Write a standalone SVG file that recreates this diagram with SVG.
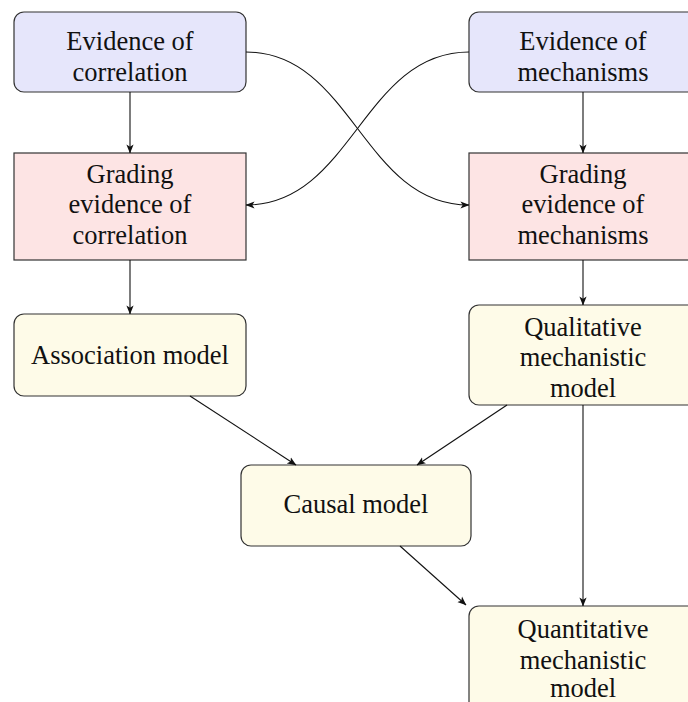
<svg xmlns="http://www.w3.org/2000/svg" width="688" height="702" viewBox="0 0 688 702">
<defs>
<style>
text{font-family:"Liberation Serif","DejaVu Serif",serif;font-size:26.5px;fill:#111;text-anchor:middle}
.blue{fill:#e6e6fb;stroke:#333;stroke-width:1.2}
.pink{fill:#fde4e4;stroke:#333;stroke-width:1.2}
.yel{fill:#fefbe8;stroke:#333;stroke-width:1.2}
.edge{fill:none;stroke:#111;stroke-width:1.1;marker-end:url(#arr)}
</style>
<marker id="arr" viewBox="0 0 10 10" refX="9.5" refY="5" markerWidth="9" markerHeight="9" markerUnits="userSpaceOnUse" orient="auto">
<path d="M0,1 L10,5 L0,9 L2.5,5 Z" fill="#111"/>
</marker>
</defs>
<g id="n1"><rect class="blue" x="14" y="12" width="232" height="80" rx="10"/><text x="130" y="50">Evidence of</text><text x="130" y="81">correlation</text></g>
<g id="n2"><rect class="blue" x="469" y="12" width="232" height="80" rx="10"/><text x="583" y="50">Evidence of</text><text x="583" y="81">mechanisms</text></g>
<g id="n3"><rect class="pink" x="14" y="153" width="232" height="107"/><text x="130" y="183">Grading</text><text x="130" y="213">evidence of</text><text x="130" y="244">correlation</text></g>
<g id="n4"><rect class="pink" x="469" y="153" width="232" height="107"/><text x="583" y="183">Grading</text><text x="583" y="213">evidence of</text><text x="583" y="244">mechanisms</text></g>
<g id="n5"><rect class="yel" x="14" y="314" width="232" height="82" rx="10"/><text x="130" y="364">Association model</text></g>
<g id="n6"><rect class="yel" x="469" y="305" width="232" height="100" rx="10"/><text x="583" y="336">Qualitative</text><text x="583" y="366">mechanistic</text><text x="583" y="397">model</text></g>
<g id="n7"><rect class="yel" x="241" y="465" width="230" height="81" rx="10"/><text x="356" y="513">Causal model</text></g>
<g id="n8"><rect class="yel" x="469" y="606" width="232" height="110" rx="10"/><text x="583" y="638">Quantitative</text><text x="583" y="669">mechanistic</text><text x="583" y="697">model</text></g>
<g id="edges">
<path class="edge" d="M130,92 V153"/>
<path class="edge" d="M583,92 V153"/>
<path class="edge" d="M246,52 C352,52 363,205 469,205"/>
<path class="edge" d="M469,52 C363,52 352,205 246,205"/>
<path class="edge" d="M130,260 V314"/>
<path class="edge" d="M583,260 V305"/>
<path class="edge" d="M190,396 L296,465"/>
<path class="edge" d="M507,405 L417,465"/>
<path class="edge" d="M583,405 V606"/>
<path class="edge" d="M400,546 L466,605"/>
</g>
</svg>
